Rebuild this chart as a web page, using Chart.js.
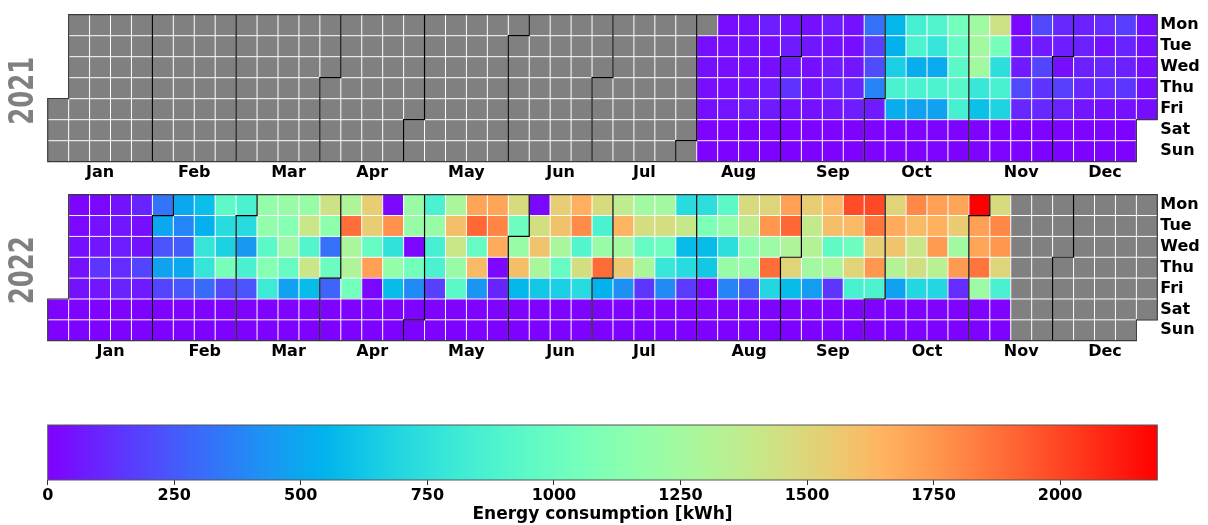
<!DOCTYPE html>
<html>
<head>
<meta charset="utf-8">
<title>Daily energy consumption 2021–2022</title>
<script src="https://cdn.jsdelivr.net/npm/chart.js@4.4.0/dist/chart.umd.min.js"></script>
<style>
  html, body { margin: 0; padding: 0; background: #ffffff; }
  #wrap { position: relative; width: 1208px; height: 525px; overflow: hidden; }
  canvas { position: absolute; left: 0; }
</style>
</head>
<body>
<div id="wrap">
  <canvas id="cal2021" width="1208" height="185" style="top:0px"></canvas>
  <canvas id="cal2022" width="1208" height="185" style="top:180px"></canvas>
  <canvas id="cbar" width="1208" height="125" style="top:400px"></canvas>
</div>
<script>
// ---- labels ----
const MONTH_NAMES = ['Jan', 'Feb', 'Mar', 'Apr', 'May', 'Jun', 'Jul', 'Aug', 'Sep', 'Oct', 'Nov', 'Dec'];
const WEEKDAY_NAMES = ['Mon', 'Tue', 'Wed', 'Thu', 'Fri', 'Sat', 'Sun'];
const COLORBAR_TICKS = [0, 250, 500, 750, 1000, 1250, 1500, 1750, 2000];

// ---- daily energy consumption [kWh], index 0 = 1st of the month, null = no reading ----
const aug2021 = [null, null, 40, 45, 38, 42, 8, 6, 30, 42, 40, 38, 52, 7, 5, 40, 44, 38, 50, 70, 9, 6, 80, 42, 40, 70, 72, 8, 5, 50, 70];
const sep2021 = [60, 140, 50, 7, 5, 40, 60, 40, 50, 50, 8, 6, 80, 50, 70, 90, 60, 7, 5, 50, 40, 60, 100, 80, 9, 6, 320, 170, 210, 380];
const oct2021 = [70, 10, 7, 560, 540, 660, 870, 520, 12, 8, 850, 880, 520, 870, 480, 11, 9, 890, 780, 510, 880, 480, 10, 8, 1040, 980, 940, 920, 850, 12, 9];
const nov2021 = [1230, 1250, 1250, 790, 600, 10, 8, 1430, 1060, 740, 860, 680, 9, 7, 20, 60, 70, 200, 110, 6, 5, 200, 70, 190, 140, 110, 7, 6, 110, 80];
const dec2021 = [40, 170, 90, 7, 5, 90, 90, 90, 110, 60, 8, 6, 120, 50, 110, 120, 40, 7, 5, 170, 100, 90, 150, 50, 6, 5, 40, 42, 38, 40, 36];

const jan2022 = [8, 6, 10, 20, 40, 50, 50, 7, 5, 20, 50, 60, 150, 60, 8, 6, 50, 60, 80, 120, 100, 7, 5, 100, 40, 50, 190, 70, 6, 5, 330];
const feb2022 = [500, 230, 480, 190, 8, 6, 500, 390, 260, 500, 240, 7, 5, 590, 530, 780, 780, 300, 8, 6, 950, 720, 670, 1060, 200, 7, 5, 870];
const mar2022 = [720, 450, 860, 230, 8, 6, 1180, 1180, 940, 1120, 810, 7, 5, 1200, 1120, 1220, 980, 480, 8, 6, 1200, 1410, 900, 1410, 580, 7, 5, 1430, 1160, 320, 1010];
const apr2022 = [280, 8, 6, 1300, 1880, 1280, 1300, 1040, 7, 5, 1540, 1540, 980, 1720, 20, 8, 6, 20, 1770, 760, 1180, 580, 7, 5, 1200, 1200, 20, 1040, 400, 8];
const may2022 = [6, 870, 1200, 850, 870, 170, 8, 6, 1280, 1600, 1410, 1200, 940, 7, 5, 1700, 1900, 980, 1620, 440, 8, 6, 1700, 1810, 1680, 20, 100, 7, 5, 1470, 1020];
const jun2022 = [1200, 1600, 560, 8, 6, 20, 1450, 1580, 1280, 630, 7, 5, 1540, 1590, 1280, 980, 660, 8, 6, 1660, 1790, 900, 1450, 720, 7, 5, 1470, 870, 1200, 1890];
const jul2022 = [540, 8, 6, 1370, 1640, 1250, 1560, 420, 7, 5, 1250, 1460, 980, 1280, 150, 8, 6, 1250, 1460, 1020, 790, 400, 7, 5, 720, 1400, 580, 720, 160, 8, 6];
const aug2022 = [740, 1080, 580, 630, 20, 8, 6, 940, 1180, 740, 1200, 380, 7, 5, 1470, 1370, 1160, 1200, 270, 8, 6, 1500, 1750, 1220, 1880, 700, 7, 5, 1720, 1900, 1300];
const sep2022 = [1510, 580, 8, 6, 1540, 1380, 1320, 1240, 460, 7, 5, 1630, 1600, 960, 1280, 150, 8, 6, 1980, 1620, 1020, 1510, 860, 7, 5, 1990, 1860, 1530, 1750, 880];
const oct2022 = [8, 6, 1510, 1680, 1580, 1320, 480, 7, 5, 1800, 1620, 1410, 1450, 700, 8, 6, 1720, 1660, 1740, 1340, 700, 7, 5, 1700, 1550, 1240, 1740, 120, 8, 6, 2192];
const nov2022 = [1720, 1700, 1860, 1220, 8, 6, 1470, 1800, 1750, 1500, 860, 7, 5];

// month tables per year (empty month = no readings)
const readings = {
  2021: [[], [], [], [], [], [], [], aug2021, sep2021, oct2021, nov2021, dec2021],
  2022: [jan2022, feb2022, mar2022, apr2022, may2022, jun2022, jul2022, aug2022, sep2022, oct2022, nov2022, []]
};

// ---- colour map (matplotlib "rainbow") ----
function rainbow(t) {
  t = Math.min(1, Math.max(0, t));
  const r = Math.min(1, Math.abs(2 * t - 0.5));
  const g = Math.sin(Math.PI * t);
  const b = Math.cos(Math.PI * t / 2);
  return 'rgb(' + Math.round(r * 255) + ',' + Math.round(g * 255) + ',' + Math.round(b * 255) + ')';
}
const NO_DATA = '#808080';

const allValues = Object.values(readings).flat(2).filter(v => v !== null && v !== undefined);
const vmin = 0;
const vmax = Math.max(...allValues);

// ---- calendar geometry helpers ----
const DAY_MS = 86400000;
function weekdayOffset(year) { return (new Date(Date.UTC(year, 0, 1)).getUTCDay() + 6) % 7; }
function cellOf(year, month, day) {
  const idx = Math.round((Date.UTC(year, month, day) - Date.UTC(year, 0, 1)) / DAY_MS) + weekdayOffset(year);
  return { col: Math.floor(idx / 7), row: idx % 7 };
}
function daysIn(year, month) { return new Date(Date.UTC(year, month + 1, 0)).getUTCDate(); }

function calendarCells(year) {
  const cells = [];
  for (let m = 0; m < 12; m++) {
    for (let d = 1; d <= daysIn(year, m); d++) {
      const v = readings[year][m][d - 1];
      const { col, row } = cellOf(year, m, d);
      cells.push({ x: col + 0.5, y: [row, row + 1], v: (v === undefined ? null : v) });
    }
  }
  return cells;
}

function monthCenters(year) {
  return MONTH_NAMES.map((_, m) => {
    const first = cellOf(year, m, 1).col;
    const last = cellOf(year, m, daysIn(year, m)).col;
    return (first + last + 1) / 2;
  });
}

// white cell separators, month boundaries, year outline and year label
function calendarFrame(year) {
  return {
    id: 'calendarFrame' + year,
    afterDatasetsDraw(chart) {
      const { ctx, scales: { x, y }, chartArea } = chart;
      const X = c => x.getPixelForValue(c);
      const Y = r => y.getPixelForValue(r);
      ctx.save();

      ctx.strokeStyle = '#ffffff';
      ctx.lineWidth = 1;
      ctx.beginPath();
      for (let c = 1; c < 53; c++) { ctx.moveTo(X(c), Y(0)); ctx.lineTo(X(c), Y(7)); }
      for (let r = 1; r < 7; r++) { ctx.moveTo(X(0), Y(r)); ctx.lineTo(X(53), Y(r)); }
      ctx.stroke();

      ctx.strokeStyle = '#000000';
      ctx.lineWidth = 1.2;
      ctx.beginPath();
      for (let m = 1; m < 12; m++) {
        const { col, row } = cellOf(year, m, 1);
        if (row === 0) {
          ctx.moveTo(X(col), Y(0)); ctx.lineTo(X(col), Y(7));
        } else {
          ctx.moveTo(X(col + 1), Y(0)); ctx.lineTo(X(col + 1), Y(row));
          ctx.lineTo(X(col), Y(row)); ctx.lineTo(X(col), Y(7));
        }
      }
      ctx.stroke();

      const a = cellOf(year, 0, 1);
      const b = cellOf(year, 11, 31);
      ctx.strokeStyle = '#3a3a3a';
      ctx.lineWidth = 1.2;
      ctx.beginPath();
      ctx.moveTo(X(a.row > 0 ? a.col + 1 : a.col), Y(0));
      ctx.lineTo(X(b.col + 1), Y(0));
      if (b.row < 6) {
        ctx.lineTo(X(b.col + 1), Y(b.row + 1));
        ctx.lineTo(X(b.col), Y(b.row + 1));
      }
      ctx.lineTo(X(b.col), Y(7));
      ctx.lineTo(X(a.col), Y(7));
      if (a.row > 0) {
        ctx.lineTo(X(a.col), Y(a.row));
        ctx.lineTo(X(a.col + 1), Y(a.row));
      }
      ctx.closePath();
      ctx.stroke();

      // year label
      ctx.fillStyle = '#808080';
      ctx.font = 'bold 33px "DejaVu Sans"';
      ctx.textAlign = 'center';
      ctx.textBaseline = 'middle';
      ctx.translate(chartArea.left - 23, (chartArea.top + chartArea.bottom) / 2 + 2.5);
      ctx.rotate(-Math.PI / 2);
      const label = String(year);
      const w = ctx.measureText(label).width;
      ctx.scale(68 / w, 1);
      ctx.fillText(label, 0, 0);
      ctx.restore();
    }
  };
}

Chart.defaults.font.family = '"DejaVu Sans", sans-serif';
Chart.defaults.color = '#000000';

const PANEL_LEFT = 47.7;
const PANEL_RIGHT_GAP = 1208 - 1157.3;
const CANVAS_H = 185;

function makeCalendar(canvasId, year, top, bottom) {
  const centers = monthCenters(year);
  return new Chart(document.getElementById(canvasId), {
    type: 'bar',
    data: {
      datasets: [{
        data: calendarCells(year),
        backgroundColor: c => (c.raw && c.raw.v !== null) ? rainbow((c.raw.v - vmin) / (vmax - vmin)) : NO_DATA,
        borderWidth: 0,
        grouped: false,
        barPercentage: 1,
        categoryPercentage: 1
      }]
    },
    options: {
      responsive: false,
      animation: false,
      events: [],
      layout: { padding: { left: PANEL_LEFT, top: top, right: 0, bottom: 0 } },
      plugins: { legend: { display: false }, tooltip: { enabled: false } },
      scales: {
        x: {
          type: 'linear', min: 0, max: 53, offset: false,
          afterBuildTicks: axis => { axis.ticks = centers.map(v => ({ value: v })); },
          ticks: {
            callback: (v, i) => MONTH_NAMES[i],
            autoSkip: false, maxRotation: 0, minRotation: 0, padding: 1.5,
            color: '#000000', font: { size: 16, weight: 'bold' }
          },
          grid: { display: false, drawTicks: false },
          border: { display: false },
          afterFit: axis => { axis.height = CANVAS_H - bottom; }
        },
        y: {
          type: 'linear', min: 0, max: 7, reverse: true, position: 'right',
          afterBuildTicks: axis => { axis.ticks = WEEKDAY_NAMES.map((_, i) => ({ value: i + 0.5 })); },
          ticks: {
            callback: (v, i) => WEEKDAY_NAMES[i],
            autoSkip: false, padding: 3,
            color: '#000000', font: { size: 16, weight: 'bold' }
          },
          grid: { display: false, drawTicks: false },
          border: { display: false },
          afterFit: axis => { axis.width = PANEL_RIGHT_GAP; }
        }
      }
    },
    plugins: [calendarFrame(year)]
  });
}

makeCalendar('cal2021', 2021, 14.7, 161.7);
makeCalendar('cal2022', 2022, 194.7 - 180, 340.7 - 180);

// ---- colour bar ----
function colorbarGradient(chart) {
  const area = chart.chartArea;
  if (!area) return 'rgba(0,0,0,0)';
  const xs = chart.scales.x;
  const g = chart.ctx.createLinearGradient(xs.getPixelForValue(vmin), 0, xs.getPixelForValue(vmax), 0);
  const n = 64;
  for (let i = 0; i <= n; i++) g.addColorStop(i / n, rainbow(i / n));
  return g;
}

const colorbarOutline = {
  id: 'colorbarOutline',
  afterDatasetsDraw(chart) {
    const { ctx, chartArea: a } = chart;
    ctx.save();
    ctx.strokeStyle = '#555555';
    ctx.lineWidth = 1;
    ctx.strokeRect(a.left, a.top, a.right - a.left, a.bottom - a.top);
    ctx.restore();
  }
};

new Chart(document.getElementById('cbar'), {
  type: 'bar',
  data: {
    labels: [''],
    datasets: [{
      data: [[vmin, vmax]],
      backgroundColor: c => colorbarGradient(c.chart),
      borderWidth: 0,
      barPercentage: 1,
      categoryPercentage: 1
    }]
  },
  options: {
    indexAxis: 'y',
    responsive: false,
    animation: false,
    events: [],
    layout: { padding: { left: PANEL_LEFT, right: PANEL_RIGHT_GAP, top: 25, bottom: 0 } },
    plugins: { legend: { display: false }, tooltip: { enabled: false } },
    scales: {
      y: { display: false },
      x: {
        type: 'linear', min: vmin, max: vmax,
        afterBuildTicks: axis => { axis.ticks = COLORBAR_TICKS.map(v => ({ value: v })); },
        ticks: {
          callback: v => String(v),
          autoSkip: false, maxRotation: 0, padding: 1,
          color: '#000000', font: { size: 16, weight: 'bold' }
        },
        grid: { drawOnChartArea: false, drawTicks: true, tickLength: 5, tickColor: '#333333', tickWidth: 1 },
        border: { display: false },
        title: {
          display: true, text: 'Energy consumption [kWh]',
          color: '#000000', font: { size: 17, weight: 'bold' }, padding: { top: 0, bottom: 0 }
        },
        afterFit: axis => { axis.height = 45; }
      }
    }
  },
  plugins: [colorbarOutline]
});
</script>
</body>
</html>
